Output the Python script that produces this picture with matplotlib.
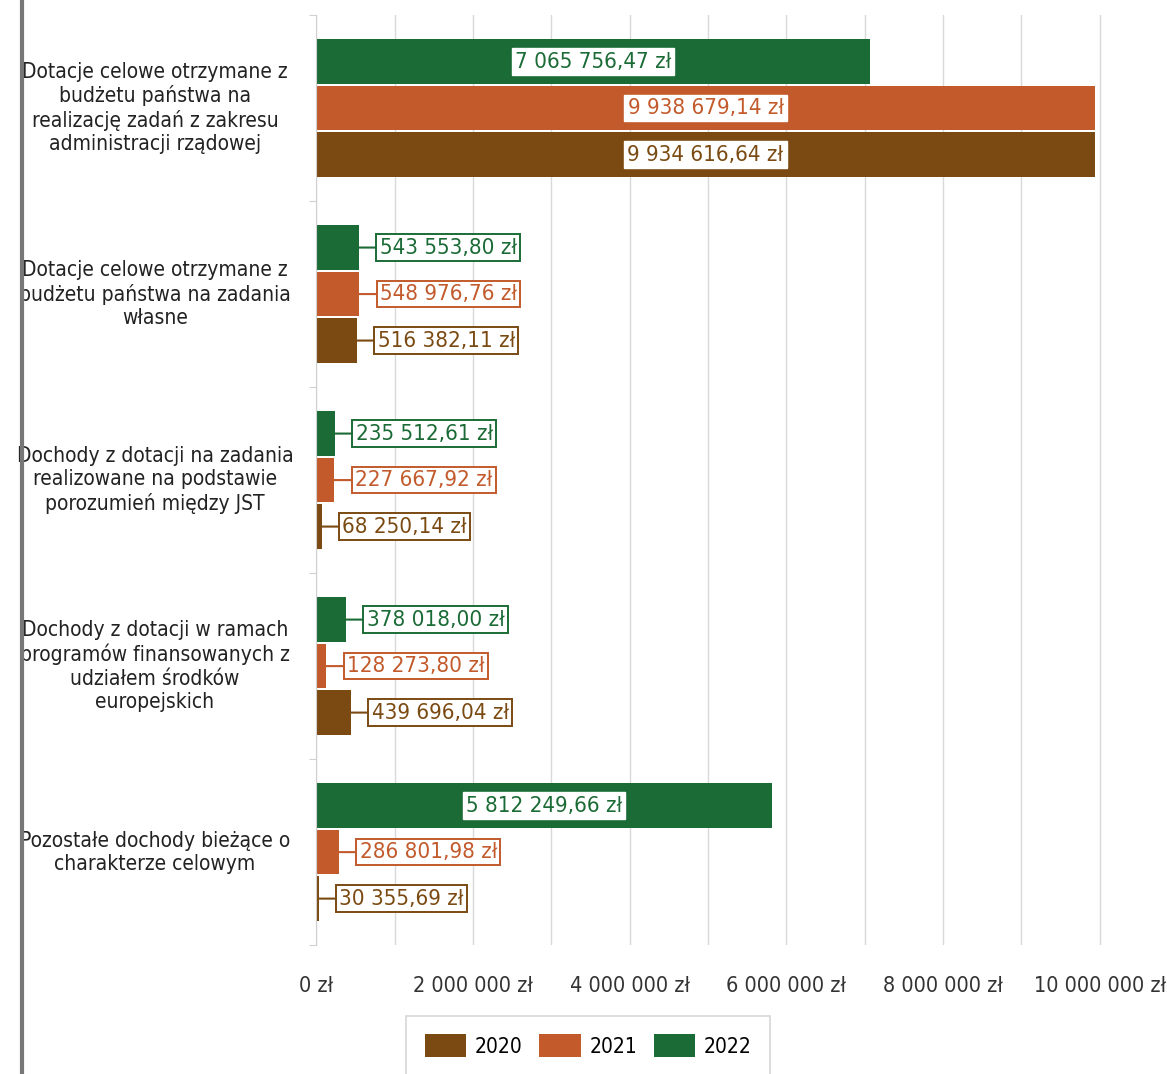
import matplotlib.pyplot as plt
from matplotlib.patches import Patch
from matplotlib.lines import Line2D
import matplotlib.transforms as mtransforms

categories = [
    "Dotacje celowe otrzymane z\nbudżetu państwa na\nrealizację zadań z zakresu\nadministracji rządowej",
    "Dotacje celowe otrzymane z\nbudżetu państwa na zadania\nwłasne",
    "Dochody z dotacji na zadania\nrealizowane na podstawie\nporozumień między JST",
    "Dochody z dotacji w ramach\nprogramów finansowanych z\nudziałem środków\neuropejskich",
    "Pozostałe dochody bieżące o\ncharakterze celowym",
]
years = ["2020", "2021", "2022"]
values_2020 = [9934616.64, 516382.11, 68250.14, 439696.04, 30355.69]
values_2021 = [9938679.14, 548976.76, 227667.92, 128273.80, 286801.98]
values_2022 = [7065756.47, 543553.80, 235512.61, 378018.00, 5812249.66]
tick_values = [0, 2000000, 4000000, 6000000, 8000000, 10000000]

colors = {"2020": "#7a4a12", "2021": "#c25a2b", "2022": "#1b6b36"}
series = {"2020": values_2020, "2021": values_2021, "2022": values_2022}
offsets = {"2022": -0.25, "2021": 0.0, "2020": 0.25}

plt.rcParams['font.family'] = ['DejaVu Sans']
plt.rcParams['font.stretch'] = 'condensed'

fig = plt.figure(figsize=(11.67, 10.74), dpi=100)
ax = fig.add_axes([0.271, 0.12, 0.727, 0.866])

def fmt(v):
    s = f"{v:,.2f}".replace(",", " ").replace(".", ",")
    return s + " zł"

for year in ["2022", "2021", "2020"]:
    vals = series[year]
    col = colors[year]
    for i, v in enumerate(vals):
        y = i + offsets[year]
        ax.barh(y, v, height=0.24, color=col, edgecolor='none', zorder=2)
        if v > 3000000:
            ax.text(v / 2, y, fmt(v), ha='center', va='center', fontsize=16,
                    color=col, zorder=4,
                    bbox=dict(boxstyle='square,pad=0.15', fc='white', ec='white'))
        else:
            ax.annotate(fmt(v), xy=(v, y), xytext=(15, 0), textcoords='offset points',
                        ha='left', va='center', fontsize=16, color=col, zorder=4,
                        bbox=dict(boxstyle='square,pad=0.15', fc='white', ec=col, lw=1.4),
                        arrowprops=dict(arrowstyle='-', color=col, lw=1.5,
                                        shrinkA=0, shrinkB=0))

ax.set_ylim(4.5, -0.5)
ax.set_xlim(0, 10830000)
ax.set_xticks(tick_values)
ax.set_xticklabels([("{:,}".format(t).replace(",", " ") + " zł") for t in tick_values],
                   fontsize=15.5, color='#333333')
ax.set_xticks(range(0, 11000000, 1000000), minor=True)
ax.tick_params(axis='x', which='both', length=0, pad=22)
ax.set_yticks([-0.5, 0.5, 1.5, 2.5, 3.5, 4.5])
ax.set_yticklabels([])
ax.tick_params(axis='y', length=5, color='#d0d0d0')
ax.grid(axis='x', which='both', color='#d9d9d9', lw=1, zorder=0)

for s in ['top', 'right', 'bottom']:
    ax.spines[s].set_visible(False)
ax.spines['left'].set_color('#d0d0d0')

trans = mtransforms.blended_transform_factory(ax.transAxes, ax.transData)
for i, cat in enumerate(categories):
    ax.text(-0.19, i, cat, transform=trans, ha='center', va='center',
            fontsize=15, color='#222222', linespacing=1.2)

handles = [Patch(facecolor=colors[y], edgecolor='none') for y in years]
leg = fig.legend(handles, years, loc='upper center', bbox_to_anchor=(0.504, 0.064),
                 ncol=3, fontsize=15, frameon=True, handlelength=2.0, handleheight=1.3,
                 columnspacing=0.8, handletextpad=0.4, borderpad=0.9,
                 edgecolor='#cccccc', fancybox=False)
leg.get_frame().set_linewidth(1.2)

fig.add_artist(Line2D([22 / 1167, 22 / 1167], [0, 1], color='#777777', lw=3,
                      transform=fig.transFigure))

fig.savefig('out.png', dpi=100, facecolor='white')
